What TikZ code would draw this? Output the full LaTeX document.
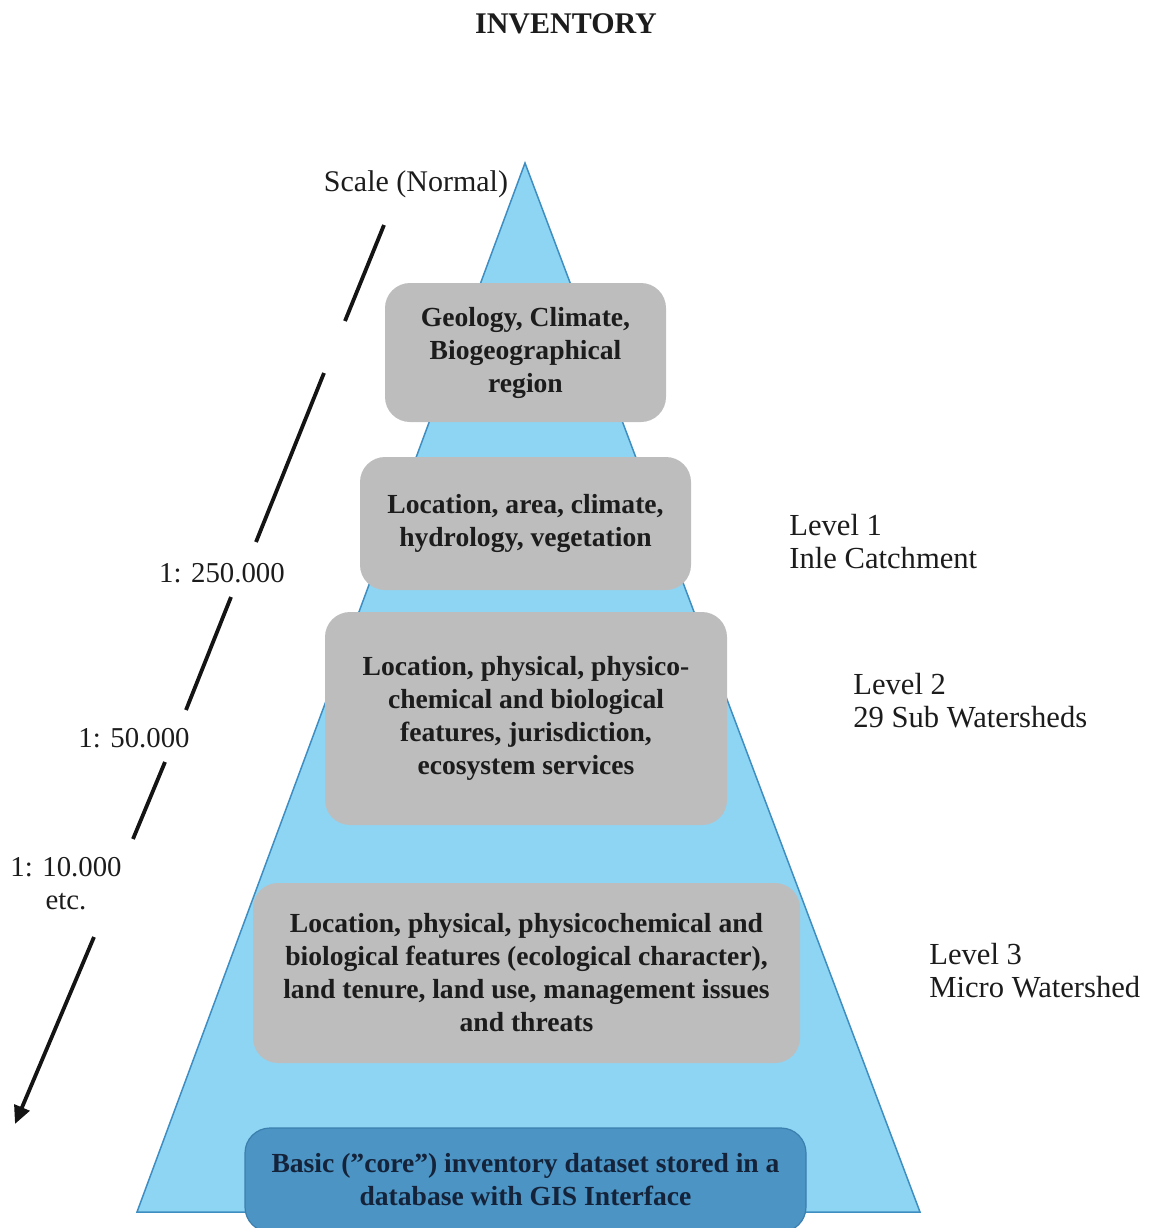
\documentclass[tikz,border=0pt]{standalone}
\usepackage{fontspec}
\setmainfont{Liberation Serif}
\usetikzlibrary{arrows.meta}

\definecolor{pyramidfill}{HTML}{8ED5F4}
\definecolor{pyramidline}{HTML}{3F8EC2}
\definecolor{boxgray}{HTML}{BDBDBD}
\definecolor{corefill}{HTML}{4B94C4}
\definecolor{coreline}{HTML}{3B7FAE}
\definecolor{coretext}{HTML}{14233A}
\definecolor{ink}{HTML}{1C1C1C}

\tikzset{
  infobox/.style={draw=none, fill=boxgray, rounded corners=12.5pt, inner sep=0pt,
    align=center, text=ink, font=\fontsize{13.8}{16.5}\selectfont\bfseries},
  corebox/.style={draw=coreline, line width=0.6pt, fill=corefill, rounded corners=12.5pt,
    inner sep=0pt, align=center, text=coretext, font=\fontsize{13.8}{16.5}\selectfont\bfseries},
  leveltext/.style={anchor=west, align=left, inner sep=0pt, text=ink,
    font=\fontsize{15.3}{16.5}\selectfont},
  scaletext/.style={align=center, inner sep=0pt, text=ink,
    font=\fontsize{14.4}{16.5}\selectfont},
  scaleline/.style={line width=1.9pt, draw=black!92},
}

\begin{document}
\begin{tikzpicture}[x=0.5pt, y=-0.5pt]
  \useasboundingbox (0,0) rectangle (1153,1228);
  \clip (0,0) rectangle (1153,1228);

  % title
  \node[inner sep=0pt, text=ink, font=\fontsize{15}{18}\selectfont\bfseries] (title) at (566,24) {INVENTORY};

  % pyramid
  \coordinate (apex) at (525,163);
  \coordinate (baseL) at (137,1212);
  \coordinate (baseR) at (920,1212);
  \filldraw[fill=pyramidfill, draw=pyramidline, line width=0.75pt, line join=miter]
    (apex) -- (baseR) -- (baseL) -- cycle;

  % content boxes, top to bottom
  \node[infobox, minimum width=140.5pt, minimum height=69.5pt] (geo) at (525.5,352.5)
    {Geology, Climate,\\Biogeographical\\region};
  \node[infobox, minimum width=165.5pt, minimum height=66.5pt] (lvl1) at (525.5,523.5)
    {Location, area, climate,\\hydrology, vegetation};
  \node[infobox, minimum width=201pt, minimum height=106.5pt] (lvl2) at (526,718.5)
    {Location, physical, physico-\\chemical and biological\\features, jurisdiction,\\ecosystem services};
  \node[infobox, minimum width=273.5pt, minimum height=90pt] (lvl3) at (526.5,973)
    {Location, physical, physicochemical and\\biological features (ecological character),\\land tenure, land use, management issues\\and threats};
  \node[corebox, minimum width=280.5pt, minimum height=52pt] (core) at (525.5,1180)
    {Basic (”core”) inventory dataset stored in a\\database with GIS Interface};

  % level captions
  \node[leveltext] (cap1) at (789,541.5) {Level 1\\Inle Catchment};
  \node[leveltext] (cap2) at (853,700.5) {Level 2\\29 Sub Watersheds};
  \node[leveltext] (cap3) at (929,970.5) {Level 3\\Micro Watershed};

  % scale axis
  \node[scaletext, font=\fontsize{15}{16.5}\selectfont] (scalehead) at (416,184) {Scale (Normal)};
  \node[scaletext] (s250) at (222,573) {1: 250.000};
  \node[scaletext] (s50) at (134,738) {1: 50.000};
  \node[scaletext] (s10) at (66,884) {1: 10.000\\etc.};

  \coordinate (a0) at (384,225);  \coordinate (a1) at (345,321);
  \coordinate (b0) at (324,373);  \coordinate (b1) at (256,542);
  \coordinate (c0) at (231,597);  \coordinate (c1) at (186,710);
  \coordinate (d0) at (165,762);  \coordinate (d1) at (133,839);
  \coordinate (e0) at (94,937);   \coordinate (e1) at (15,1124);

  \draw[scaleline] (a0) -- (a1);
  \draw[scaleline] (b0) -- (b1);
  \draw[scaleline] (c0) -- (c1);
  \draw[scaleline] (d0) -- (d1);
  \draw[scaleline, -{Triangle[length=9pt, width=8pt]}] (e0) -- (e1);
\end{tikzpicture}
\end{document}
